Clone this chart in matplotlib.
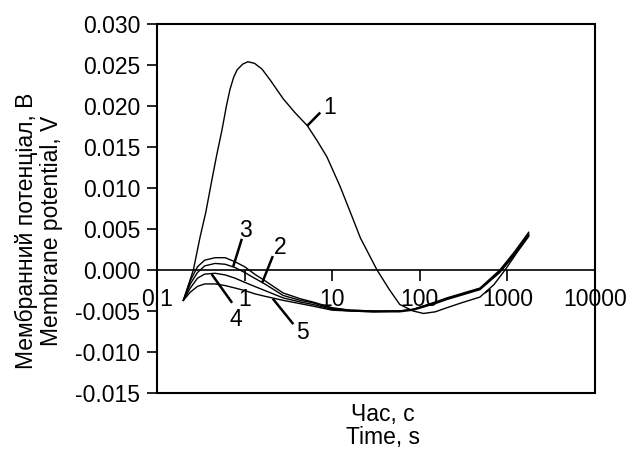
import matplotlib
matplotlib.use("Agg")
import matplotlib.pyplot as plt
from matplotlib.patches import Rectangle

plt.rcParams['font.family'] = ['Liberation Sans', 'DejaVu Sans']

# curve 1
t1 = [0.2, 0.26, 0.31, 0.36, 0.42, 0.48, 0.55, 0.62, 0.68, 0.75, 0.82, 0.95, 1.09, 1.3,
      1.58, 1.95, 2.75, 3.75, 5.2, 6.7, 8.7, 12.3, 17.3, 21, 32.5, 45, 59, 84, 110, 150,
      204, 300, 486, 700, 940, 1300, 1750]
v1 = [-0.0037, 0.0, 0.0040, 0.0070, 0.0108, 0.0140, 0.0170, 0.0200, 0.0220, 0.0235, 0.0244,
      0.0251, 0.0254, 0.0252, 0.0245, 0.0232, 0.0209, 0.0192, 0.0176, 0.0158, 0.0138, 0.0102,
      0.0062, 0.0039, 0.0, -0.0024, -0.0042, -0.0050, -0.0053, -0.0051, -0.0046, -0.0040,
      -0.0033, -0.0018, 0.0, 0.0022, 0.0041]

# curves 2-5 share the same time points
t = [0.2, 0.24, 0.29, 0.35, 0.46, 0.6, 0.78, 1.0, 1.3, 1.7, 2.75, 4.3, 6, 10, 16, 30, 59,
     84, 160, 204, 486, 820, 1200, 1750]
v3 = [-0.0037, -0.0013, 0.0004, 0.0012, 0.0015, 0.0015, 0.0010, 0.0004, -0.0005, -0.0013,
      -0.0028, -0.0035, -0.0039, -0.0046, -0.0049, -0.0050, -0.0050, -0.0048, -0.0038,
      -0.0034, -0.0022, 0.0, 0.0022, 0.0046]
v2 = [-0.0037, -0.0017, -0.0003, 0.0005, 0.0008, 0.0007, 0.0003, -0.0003, -0.0010, -0.0017,
      -0.0031, -0.0037, -0.0040, -0.0047, -0.0049, -0.0050, -0.0050, -0.0048, -0.0039,
      -0.0035, -0.0023, -0.0001, 0.0020, 0.0044]
v4 = [-0.0037, -0.0022, -0.0010, -0.0005, -0.0004, -0.0006, -0.0010, -0.0015, -0.0020, -0.0025,
      -0.0034, -0.0039, -0.0042, -0.0048, -0.0050, -0.0051, -0.0050, -0.0048, -0.0039,
      -0.0035, -0.0023, -0.0002, 0.0019, 0.0043]
v5 = [-0.0037, -0.0027, -0.0020, -0.0017, -0.0017, -0.0019, -0.0022, -0.0025, -0.0029, -0.0032,
      -0.0037, -0.0041, -0.0044, -0.0049, -0.0050, -0.0051, -0.0051, -0.0049, -0.0040,
      -0.0036, -0.0024, -0.0003, 0.0018, 0.0042]

# curve labels: text position, leader start, point on curve
labels = ['1', '3', '2', '4', '5']
label_text = [(9.4, 0.0198), (1.01, 0.0048), (2.53, 0.0027), (0.80, -0.0060), (4.6, -0.0076)]
leader_from = [(5.2, 0.0176), (0.74, 0.0004), (1.58, -0.0016), (0.42, -0.0005), (2.1, -0.0035)]
leader_to = [(7.3, 0.0192), (0.93, 0.0038), (2.1, 0.0017), (0.72, -0.0040), (3.6, -0.0066)]

xticks = [0.1, 1, 10, 100, 1000, 10000]
xtick_labels = ['0.1', '1', '10', '100', '1000', '10000']
yticks = [-0.015, -0.010, -0.005, 0.000, 0.005, 0.010, 0.015, 0.020, 0.025, 0.030]

fs = 16.5
fig = plt.figure(figsize=(6.27, 4.55), dpi=100)
ax = fig.add_axes([157 / 627, 1 - 393 / 455, (595 - 157) / 627, (393 - 24) / 455])

ax.plot(t1, v1, color='black', lw=1.0)
for v in (v3, v2, v4, v5):
    ax.plot(t, v, color='black', lw=1.0)

for lab, tp, a, b in zip(labels, label_text, leader_from, leader_to):
    ax.plot([a[0], b[0]], [a[1], b[1]], color='black', lw=1.8, solid_capstyle='butt')
    ax.text(tp[0], tp[1], lab, fontsize=fs, ha='center', va='center')

ax.set_xscale('log')
ax.set_xlim(0.1, 10000)
ax.set_ylim(-0.015, 0.030)

# x axis crosses at zero, frame drawn as a box
for side in ('top', 'right', 'left'):
    ax.spines[side].set_visible(False)
ax.spines['bottom'].set_position(('data', 0))
ax.spines['bottom'].set_linewidth(1.2)
ax.add_patch(Rectangle((0, 0), 1, 1, transform=ax.transAxes, fill=False,
                       lw=1.5, edgecolor='black', zorder=5, clip_on=False))

ax.set_xticks(xticks)
ax.set_xticklabels(xtick_labels)
ax.xaxis.set_minor_locator(plt.NullLocator())
ax.set_yticks(yticks)
ax.set_yticklabels([f'{y:.3f}' for y in yticks])
ax.tick_params(axis='x', direction='out', length=8, width=1.2, pad=5, labelsize=fs)
ax.tick_params(axis='y', direction='out', length=7, width=1.2, pad=5, labelsize=fs)

fig.text(39 / 627, 1 - 231 / 455, 'Мембранний потенціал, В\nMembrane potential, V',
         rotation=90, ha='center', va='center', fontsize=fs, linespacing=1.1,
         multialignment='center')
fig.text(383 / 627, 1 - 426 / 455, 'Час, с\nTime, s', ha='center', va='center',
         fontsize=fs, linespacing=0.95)

fig.savefig('out.png', dpi=100)
